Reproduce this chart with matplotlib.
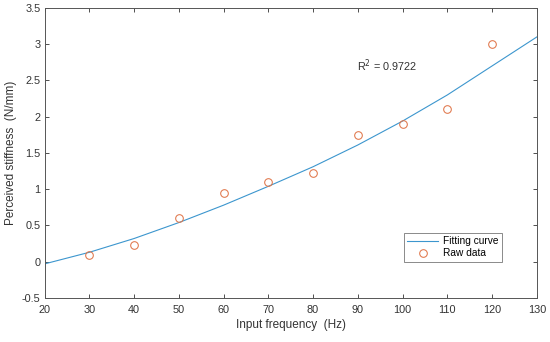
import numpy as np
import matplotlib
matplotlib.use("Agg")
import matplotlib.pyplot as plt

plt.rcParams['font.family'] = ['Liberation Sans', 'DejaVu Sans']

# raw measurements
freq = [30, 40, 50, 60, 70, 80, 90, 100, 110, 120]
stiff = [0.09, 0.23, 0.60, 0.95, 1.10, 1.23, 1.75, 1.90, 2.10, 3.00]

# fitting curve, every 10 Hz
fit_freq = [20, 30, 40, 50, 60, 70, 80, 90, 100, 110, 120, 130]
fit_stiff = [-0.03, 0.13, 0.32, 0.54, 0.78, 1.04, 1.31, 1.61, 1.94, 2.30, 2.70, 3.10]

x_ticks = np.arange(20, 131, 10)
y_ticks = np.arange(-0.5, 3.51, 0.5)
y_labels = ['-0.5', '0', '0.5', '1', '1.5', '2', '2.5', '3', '3.5']

txt_col = '#333333'

fig = plt.figure(figsize=(5.5, 3.42), dpi=100)
ax = fig.add_axes([0.081, 0.1287, 0.895, 0.848])

ax.plot(fit_freq, fit_stiff, '-', color='#3C96CE', linewidth=0.8, label='Fitting curve')
ax.plot(freq, stiff, 'o', color='#E0764A', markerfacecolor='none',
        markersize=5.5, markeredgewidth=0.75, label='Raw data')

ax.set_xlim(20, 130)
ax.set_ylim(-0.5, 3.5)
ax.set_xticks(x_ticks)
ax.set_yticks(y_ticks, labels=y_labels)
ax.tick_params(direction='in', top=True, right=True, length=3, width=0.6,
               colors=txt_col, labelsize=7.8)
ax.tick_params(axis='x', pad=5)
ax.tick_params(axis='y', pad=3)
for s in ax.spines.values():
    s.set_color('#555555')
    s.set_linewidth(0.7)

ax.set_xlabel('Input frequency  (Hz)', fontsize=8.5, color=txt_col, labelpad=3)
ax.set_ylabel('Perceived stiffness  (N/mm)', fontsize=8.5, color=txt_col, labelpad=3)

ax.text(89.8, 2.71, r'R$^2$ = 0.9722', fontsize=7.8, color=txt_col, va='center')

leg = ax.legend(loc='lower right', bbox_to_anchor=(0.929, 0.124), borderaxespad=0,
                fontsize=7.3, frameon=True, fancybox=False, handlelength=3.0,
                borderpad=0.35, labelspacing=0.2, handletextpad=0.5)
leg.get_frame().set_edgecolor('#555555')
leg.get_frame().set_linewidth(0.6)

fig.savefig('out.png', dpi=100)
